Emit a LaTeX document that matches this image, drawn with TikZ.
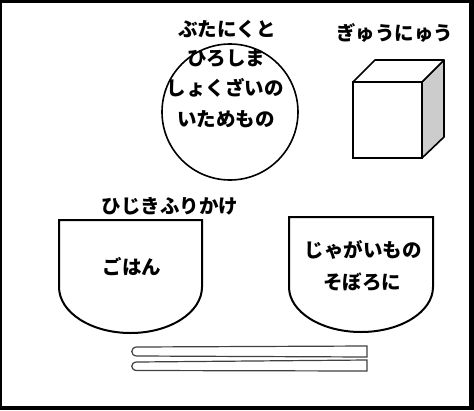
\documentclass[tikz,border=0pt]{standalone}
\usepackage{fontspec}
\newfontfamily\jpfont{Noto Sans CJK JP}
\begin{document}
\begin{tikzpicture}[x=1pt,y=-1pt,
  label/.style={inner sep=0pt,font=\jpfont\bfseries\fontsize{19.5}{23}\selectfont},
  dish/.style={draw=black,line width=2pt,fill=white},
  stick/.style={draw=black!75,line width=1.2pt,fill=white}]
\useasboundingbox (0,0) rectangle (474,410);
% frame
\fill[black] (0,0) rectangle (474,410);
\fill[white] (2,3) rectangle (469,406);

% plate with the main dish
\draw[line width=1.6pt] (230,112) circle[radius=68];
\node[label] (m1) at (227,29) {ぶたにくと};
\node[label] (m2) at (226,58) {ひろしま};
\node[label] (m3) at (225,88) {しょくざいの};
\node[label] (m4) at (226,119) {いためもの};

% milk carton
\node[label] (milk) at (395,33) {ぎゅうにゅう};
\draw[line width=1.6pt,fill=black!20,line join=round] (422,82) -- (444,60) -- (444,137) -- (422,158) -- cycle;
\draw[line width=1.6pt,fill=white,line join=round] (353,82) -- (375,60) -- (444,60) -- (422,82) -- cycle;
\draw[line width=1.6pt,fill=white] (353,82) rectangle (422,158);

% rice bowl
\draw[dish] (59,220) -- (202,220) -- (202,287)
  arc[start angle=0,end angle=180,x radius=71.5,y radius=46] -- cycle;
\node[label] (topping) at (170,206) {ひじきふりかけ};
\node[label] (rice) at (132,267) {ごはん};

% side dish bowl
\draw[dish] (289,217) -- (433,217) -- (433,287)
  arc[start angle=0,end angle=180,x radius=72,y radius=45] -- cycle;
\node[label] (s1) at (363,250) {じゃがいもの};
\node[label] (s2) at (362,282) {そぼろに};

% chopsticks
\draw[stick] (367,346) -- (137,347) .. controls (130,347) and (130,356) .. (137,356) -- (367,357) -- cycle;
\draw[stick] (367,360) -- (137,362) .. controls (130,362) and (130,370.5) .. (137,370.5) -- (367,371) -- cycle;
\end{tikzpicture}
\end{document}
